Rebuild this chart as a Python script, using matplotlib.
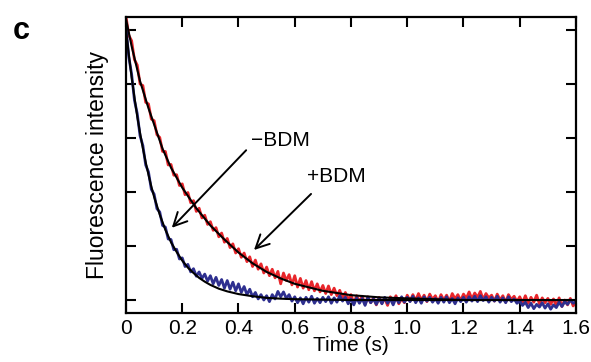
import matplotlib
matplotlib.use("Agg")
import matplotlib.pyplot as plt
import numpy as np

plt.rcParams['font.family'] = ['Liberation Sans', 'DejaVu Sans']

time = np.arange(161) / 100.0
red_trace = [
    5.25, 4.90, 4.80, 4.45, 4.35, 4.00, 3.97, 3.66, 3.63, 3.35,
    3.32, 3.06, 3.01, 2.75, 2.75, 2.50, 2.51, 2.31, 2.32, 2.12,
    2.15, 1.95, 1.99, 1.80, 1.84, 1.64, 1.70, 1.52, 1.57, 1.40,
    1.45, 1.29, 1.34, 1.17, 1.24, 1.07, 1.14, 0.97, 1.04, 0.87,
    0.95, 0.79, 0.87, 0.71, 0.80, 0.62, 0.74, 0.57, 0.67, 0.50,
    0.61, 0.45, 0.57, 0.41, 0.53, 0.30, 0.50, 0.36, 0.47, 0.28,
    0.45, 0.24, 0.40, 0.22, 0.36, 0.19, 0.34, 0.17, 0.30, 0.15,
    0.27, 0.12, 0.26, 0.10, 0.22, 0.08, 0.18, 0.03, 0.14, 0.00,
    0.10, -0.06, 0.08, -0.03, 0.07, -0.08, 0.06, -0.05, 0.04, -0.09,
    0.05, -0.06, 0.03, -0.10, 0.06, -0.04, 0.08, -0.07, 0.02, -0.05,
    0.09, -0.02, 0.10, -0.01, 0.12, 0.00, 0.09, -0.03, 0.11, 0.01,
    0.08, -0.04, 0.10, 0.00, 0.09, -0.03, 0.12, 0.02, 0.10, -0.01,
    0.11, 0.03, 0.15, 0.02, 0.13, 0.05, 0.16, 0.01, 0.12, 0.04,
    0.09, -0.02, 0.11, 0.00, 0.08, -0.04, 0.10, 0.01, 0.07, -0.03,
    0.06, -0.05, 0.08, -0.06, 0.05, -0.04, 0.09, -0.07, 0.04, -0.05,
    0.03, -0.08, 0.02, -0.10, 0.04, -0.12, 0.00, -0.09, 0.03, -0.11, -0.02,
]
blue_trace = [
    5.05, 4.50, 4.18, 3.70, 3.45, 3.04, 2.86, 2.50, 2.37, 2.05,
    1.96, 1.69, 1.63, 1.38, 1.35, 1.13, 1.12, 0.93, 0.94, 0.76,
    0.78, 0.62, 0.66, 0.52, 0.58, 0.44, 0.52, 0.40, 0.48, 0.35,
    0.45, 0.30, 0.42, 0.27, 0.38, 0.22, 0.36, 0.20, 0.33, 0.17,
    0.30, 0.14, 0.25, 0.10, 0.20, 0.06, 0.14, 0.02, 0.10, 0.00,
    0.08, -0.03, 0.10, 0.02, 0.16, 0.06, 0.15, 0.03, 0.10, -0.02,
    0.06, -0.05, 0.04, -0.07, 0.05, -0.04, 0.07, -0.06, 0.03, -0.05,
    0.05, -0.03, 0.06, -0.06, 0.04, -0.04, 0.08, -0.02, 0.05, -0.07,
    0.02, -0.09, 0.04, -0.06, 0.03, -0.10, 0.05, -0.05, 0.02, -0.08,
    0.03, -0.07, 0.05, -0.06, 0.02, -0.09, 0.04, -0.05, 0.06, -0.04,
    0.05, -0.03, 0.07, -0.05, 0.04, -0.06, 0.06, -0.02, 0.05, -0.04,
    0.03, -0.06, 0.05, -0.04, 0.06, -0.05, 0.03, -0.07, 0.04, -0.03,
    0.05, -0.04, 0.06, -0.02, 0.07, -0.03, 0.08, -0.01, 0.06, -0.04,
    0.05, -0.02, 0.07, -0.04, 0.04, -0.05, 0.06, -0.03, 0.02, -0.06,
    -0.02, -0.10, -0.04, -0.14, -0.06, -0.16, -0.08, -0.13, -0.05, -0.15,
    -0.07, -0.17, -0.09, -0.14, -0.04, -0.12, -0.03, -0.08, 0.00, -0.06, -0.03,
]

# fitted curves (black), read at a few points
blue_fit_t = [0, 0.01, 0.02, 0.03, 0.04, 0.05, 0.06, 0.07, 0.08, 0.09, 0.10,
              0.12, 0.14, 0.16, 0.18, 0.20, 0.22, 0.24, 0.26, 0.28, 0.30, 0.33,
              0.36, 0.40, 0.45, 0.50, 0.55, 0.60, 0.80, 1.0, 1.2, 1.4, 1.6]
blue_fit_v = [5.00, 4.54, 4.13, 3.75, 3.40, 3.09, 2.81, 2.55, 2.32, 2.10, 1.91,
              1.58, 1.30, 1.07, 0.89, 0.73, 0.60, 0.50, 0.41, 0.34, 0.28, 0.21,
              0.16, 0.11, 0.07, 0.04, 0.025, 0.015, 0.0, 0.0, 0.0, 0.0, 0.0]
red_fit_t = [0, 0.02, 0.05, 0.08, 0.10, 0.13, 0.16, 0.20, 0.25, 0.30, 0.35, 0.40,
             0.45, 0.50, 0.55, 0.60, 0.70, 0.80, 0.90, 1.0, 1.2, 1.4, 1.6]
red_fit_v = [5.2, 4.7, 4.05, 3.55, 3.25, 2.80, 2.45, 2.08, 1.70, 1.38, 1.12, 0.88,
             0.68, 0.52, 0.40, 0.30, 0.17, 0.09, 0.05, 0.03, 0.0, 0.0, 0.0]

xticks = [0, 0.2, 0.4, 0.6, 0.8, 1.0, 1.2, 1.4, 1.6]
xlabels = ['0', '0.2', '0.4', '0.6', '0.8', '1.0', '1.2', '1.4', '1.6']
yticks = [0, 1, 2, 3, 4, 5]

fig = plt.figure(figsize=(5.91, 3.62), dpi=100)
ax = fig.add_axes([0.2132, 0.1354, 0.7614, 0.8177])

ax.plot(time, red_trace, color='#e8262b', lw=2.0)
ax.plot(time, blue_trace, color='#2e2f8f', lw=2.0)
ax.plot(red_fit_t, red_fit_v, color='black', lw=1.5)
ax.plot(blue_fit_t, blue_fit_v, color='black', lw=1.5)

ax.set_xlim(0, 1.6)
ax.set_ylim(-0.24, 5.24)
ax.set_xticks(xticks)
ax.set_xticklabels(xlabels, fontsize=15)
ax.set_yticks(yticks)
ax.set_yticklabels([])
ax.tick_params(direction='in', length=7, width=1.5, top=True, right=True, pad=4)
for s in ax.spines.values():
    s.set_linewidth(1.6)

ax.set_xlabel('Time (s)', fontsize=15, labelpad=-1)
ax.set_ylabel('Fluorescence intensity', fontsize=16.5, labelpad=8)

arrow = dict(arrowstyle='->', lw=1.4, color='black', mutation_scale=24)
ax.annotate('', xy=(0.156, 1.30), xytext=(0.434, 2.81), arrowprops=arrow)
ax.annotate('', xy=(0.448, 0.89), xytext=(0.665, 2.0), arrowprops=arrow)
ax.text(0.445, 2.95, '\u2212BDM', fontsize=15, va='center', ha='left')
ax.text(0.642, 2.28, '+BDM', fontsize=15, va='center', ha='left')

fig.text(0.022, 0.915, 'c', fontsize=22, fontweight='bold', va='center')

fig.savefig('out.png', dpi=100)
